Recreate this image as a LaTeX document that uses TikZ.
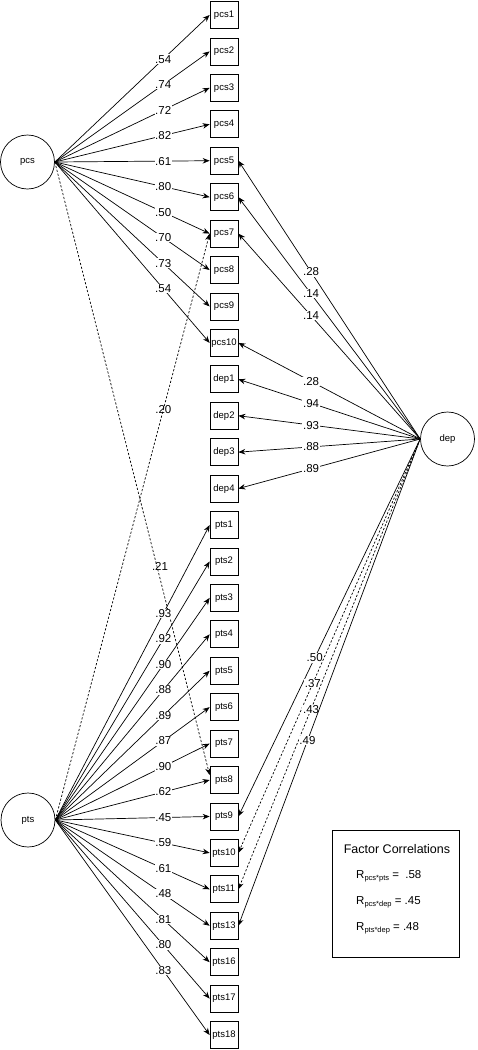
\documentclass[tikz,border=0pt]{standalone}
\usepackage{fontspec}
\setmainfont{Liberation Sans}
\usetikzlibrary{arrows.meta,calc}
\begin{document}
\begin{tikzpicture}[x=1pt,y=-1pt,
  obs/.style={draw,line width=0.7pt,minimum width=28pt,minimum height=27pt,inner sep=0pt,font=\fontsize{9.5}{10}\selectfont},
  lat/.style={draw,circle,line width=0.7pt,minimum size=54pt,inner sep=0pt,font=\fontsize{9.5}{10}\selectfont},
  load/.style={line width=0.7pt,-{Stealth[length=7pt,width=5.5pt]}},
  dload/.style={load,dash pattern=on 2.2pt off 1.8pt},
  lab/.style={fill=white,inner sep=0.6pt,font=\fontsize{11.5}{12}\selectfont},
  rtxt/.style={anchor=west,inner sep=0pt,font=\fontsize{11.5}{12}\selectfont}]
\useasboundingbox (0,0) rectangle (477,1050);
% observed boxes
\foreach \n [count=\i from 0] in {pcs1,pcs2,pcs3,pcs4,pcs5,pcs6,pcs7,pcs8,pcs9,pcs10,dep1,dep2,dep3,dep4,pts1,pts2,pts3,pts4,pts5,pts6,pts7,pts8,pts9,pts10,pts11,pts13,pts16,pts17,pts18}
  \node[obs] (\n) at (224,{15+\i*36.43}) {\n};
% latent factors
\node[lat] (pcs) at (27.5,162) {pcs};
\node[lat] (pts) at (28,820) {pts};
\node[lat] (dep) at (447.5,439) {dep};
% cross loadings (dashed)
\draw[dload] (pcs.east) -- node[lab,pos=0.66,fill=none,xshift=3pt]{.21} ([yshift=5pt]pts8.west);
\draw[dload] (pts.east) -- node[lab,pos=0.7,fill=none]{.20} (pcs7.west);
% pcs loadings
\foreach \t/\v in {pcs1/.54,pcs2/.74,pcs3/.72,pcs4/.82,pcs5/.61,pcs6/.80,pcs7/.50,pcs8/.70,pcs9/.73,pcs10/.54}
  \draw[load] (pcs.east) -- node[lab,pos=0.7]{\v} (\t.west);
% pts loadings
\foreach \t/\v in {pts1/.93,pts2/.92,pts3/.90,pts4/.88,pts5/.89,pts6/.87,pts7/.90,pts8/.62,pts9/.45,pts10/.59,pts11/.61,pts13/.48,pts16/.81,pts17/.80,pts18/.83}
  \draw[load] (pts.east) -- node[lab,pos=0.7]{\v} (\t.west);
% dep loadings
\foreach \t/\v in {pcs5/.28,pcs6/.14,pcs7/.14,pcs10/.28,dep1/.94,dep2/.93,dep3/.88,dep4/.89}
  \draw[load] (dep.west) -- node[lab,pos=0.6]{\v} (\t.east);
\draw[load] (dep.west) -- node[lab,pos=0.58]{.50} (pts9.east);
\draw[dload] (dep.west) -- node[lab,pos=0.59]{.37} (pts10.east);
\draw[dload] (dep.west) -- node[lab,pos=0.6]{.43} (pts11.east);
\draw[load] (dep.west) -- node[lab,pos=0.62]{.49} (pts13.east);
% factor correlations box
\node[draw,line width=0.7pt,minimum width=127pt,minimum height=127pt,inner sep=0pt] (fc) at (395.5,893.5) {};
\node[inner sep=0pt,font=\fontsize{12.5}{13}\selectfont] (fct) at (397,849) {Factor Correlations};
\node[rtxt] (r1) at (356,876) {R\raisebox{-0.35ex}{\fontsize{7.5}{8}\selectfont pcs*pts} =\ \ .58};
\node[rtxt] (r2) at (356,902) {R\raisebox{-0.35ex}{\fontsize{7.5}{8}\selectfont pcs*dep} = .45};
\node[rtxt] (r3) at (356,928) {R\raisebox{-0.35ex}{\fontsize{7.5}{8}\selectfont pts*dep} = .48};
\end{tikzpicture}
\end{document}
